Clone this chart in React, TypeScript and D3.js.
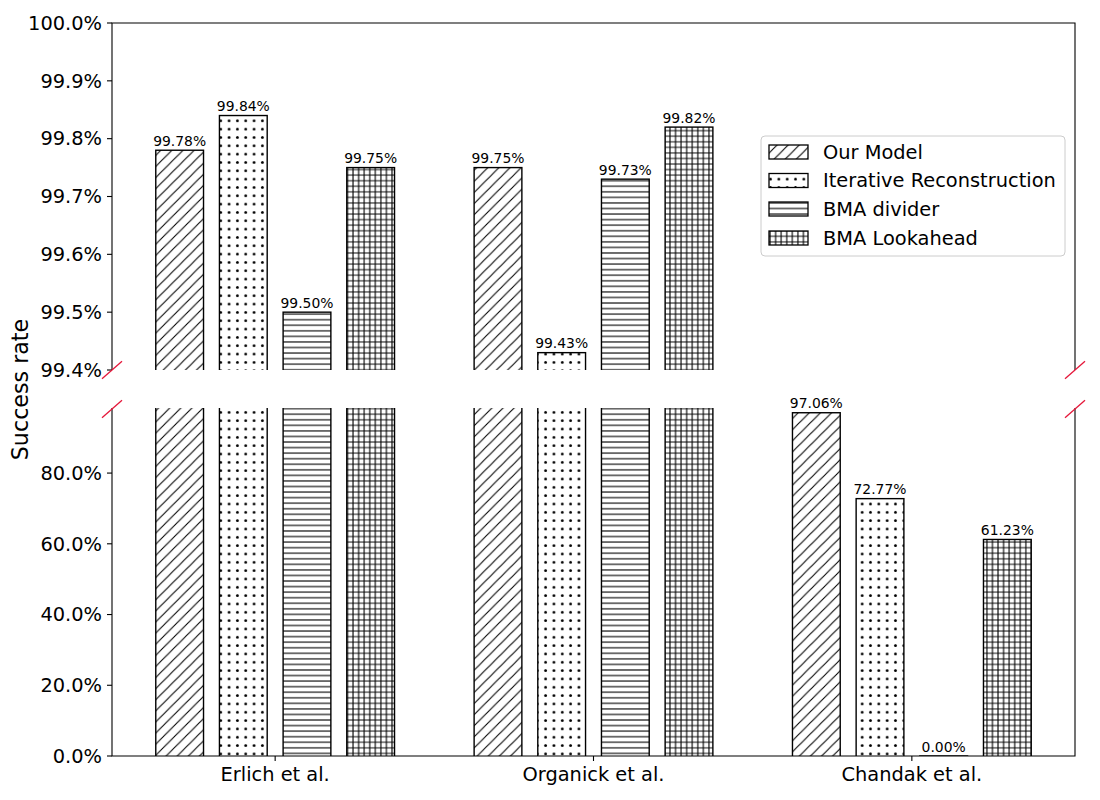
import React from 'react';
import * as d3 from 'd3';

// chart data
const groups = ["Erlich et al.", "Organick et al.", "Chandak et al."];
const methods = ["Our Model", "Iterative Reconstruction", "BMA divider", "BMA Lookahead"];
const ourModel = [99.78, 99.75, 97.06];
const iterativeRecon = [99.84, 99.43, 72.77];
const bmaDivider = [99.50, 99.73, 0.0];
const bmaLookahead = [99.75, 99.82, 61.23];
const series = [ourModel, iterativeRecon, bmaDivider, bmaLookahead];
const hatchIds = ["hatchDiag", "hatchDots", "hatchHoriz", "hatchGrid"];
const topTicks = [99.4, 99.5, 99.6, 99.7, 99.8, 99.9, 100.0];
const bottomTicks = [0, 20, 40, 60, 80];

const W = 1100;
const H = 800;
const left = 112;
const right = 1075;
const topY0 = 23, topY1 = 370;
const botY0 = 408, botY1 = 756;
const barWidth = 0.15;
const offsets = [-0.3, -0.1, 0.1, 0.3];
const font = '"DejaVu Sans", sans-serif';
const breakColor = '#e5173a';
const tickFont = 19.4;
const valFont = 13.9;

const x = d3.scaleLinear().domain([-0.5125, 2.5125]).range([left, right]);
const yTop = d3.scaleLinear().domain([99.4, 100.0]).range([topY1, topY0]);
const yBot = d3.scaleLinear().domain([0, 98.4]).range([botY1, botY0]);

const fmtTick = (v: number) => `${v.toFixed(1)}%`;
const fmtVal = (v: number) => `${v.toFixed(2)}%`;

const Patterns = () => {
  const d = 11.11; // diagonal spacing
  const h = 5.56;
  const s = 8.33;
  return (
    <defs>
      <pattern id="hatchDiag" patternUnits="userSpaceOnUse" width={d} height={d}>
        <rect width={d} height={d} fill="white" />
        <path d={`M-1,1 L1,-1 M0,${d} L${d},0 M${d - 1},${d + 1} L${d + 1},${d - 1}`} stroke="black" strokeWidth={1.1} />
      </pattern>
      <pattern id="hatchDots" patternUnits="userSpaceOnUse" width={s} height={s}>
        <rect width={s} height={s} fill="white" />
        <circle cx={s / 2} cy={s / 2} r={1.4} fill="black" />
      </pattern>
      <pattern id="hatchHoriz" patternUnits="userSpaceOnUse" width={h} height={h}>
        <rect width={h} height={h} fill="white" />
        <path d={`M0,${h / 2} L${h},${h / 2}`} stroke="black" strokeWidth={1.1} />
      </pattern>
      <pattern id="hatchGrid" patternUnits="userSpaceOnUse" width={h} height={h}>
        <rect width={h} height={h} fill="white" />
        <path d={`M0,${h / 2} L${h},${h / 2} M${h / 2},0 L${h / 2},${h}`} stroke="black" strokeWidth={1.1} />
      </pattern>
      <clipPath id="clipTop">
        <rect x={left} y={topY0} width={right - left} height={topY1 - topY0} />
      </clipPath>
      <clipPath id="clipBot">
        <rect x={left} y={botY0} width={right - left} height={botY1 - botY0} />
      </clipPath>
    </defs>
  );
};

const Bars = ({ y, clip, y0 }: { y: d3.ScaleLinear<number, number>; clip: string; y0: number }) => (
  <g clipPath={`url(#${clip})`}>
    {series.map((vals, si) =>
      vals.map((v, gi) => {
        const bx = x(gi + offsets[si] - barWidth / 2);
        const bw = x(gi + offsets[si] + barWidth / 2) - bx;
        const top = y(v);
        const base = Math.max(y(y.domain()[0]), y0) + 20;
        const yy = Math.min(top, base);
        return (
          <rect key={`${si}-${gi}`} x={bx} y={yy} width={bw} height={Math.max(0, base - yy)}
            fill={`url(#${hatchIds[si]})`} stroke="black" strokeWidth={1.4} />
        );
      })
    )}
  </g>
);

const App = () => {
  const labelsTop: JSX.Element[] = [];
  const labelsBot: JSX.Element[] = [];
  series.forEach((vals, si) =>
    vals.forEach((v, gi) => {
      const cx = x(gi + offsets[si]);
      if (v >= 99.4) {
        labelsTop.push(
          <text key={`t${si}-${gi}`} x={cx} y={yTop(v) - 4.5} textAnchor="middle" fontSize={valFont}>{fmtVal(v)}</text>
        );
      } else {
        labelsBot.push(
          <text key={`b${si}-${gi}`} x={cx} y={yBot(v) - 4.5} textAnchor="middle" fontSize={valFont}>{fmtVal(v)}</text>
        );
      }
    })
  );

  const breakMark = (cx: number, cy: number, k: string) => (
    <line key={k} x1={cx - 10} y1={cy + 8.7} x2={cx + 10} y2={cy - 8.7} stroke={breakColor} strokeWidth={1.3} />
  );

  const legendRows = [152, 180.5, 209, 238];

  return (
    <svg width={W} height={H} style={{ display: 'block', position: 'absolute', left: 0, top: 0, background: 'white' }}
      fontFamily={font}>
      <Patterns />
      <rect width={W} height={H} fill="white" />

      {/* top panel */}
      <Bars y={yTop} clip="clipTop" y0={topY1} />
      {labelsTop}
      <path d={`M${left},${topY1} L${left},${topY0} L${right},${topY0} L${right},${topY1}`} fill="none" stroke="black" strokeWidth={1.1} />
      {topTicks.map(t => (
        <g key={`yt${t}`}>
          <line x1={left - 5} x2={left} y1={yTop(t)} y2={yTop(t)} stroke="black" strokeWidth={1.1} />
          <text x={left - 10} y={yTop(t)} dy="0.35em" textAnchor="end" fontSize={tickFont}>{fmtTick(t)}</text>
        </g>
      ))}

      {/* bottom panel */}
      <Bars y={yBot} clip="clipBot" y0={botY1} />
      {labelsBot}
      <path d={`M${left},${botY0} L${left},${botY1} L${right},${botY1} L${right},${botY0}`} fill="none" stroke="black" strokeWidth={1.1} />
      {bottomTicks.map(t => (
        <g key={`yb${t}`}>
          <line x1={left - 5} x2={left} y1={yBot(t)} y2={yBot(t)} stroke="black" strokeWidth={1.1} />
          <text x={left - 10} y={yBot(t)} dy="0.35em" textAnchor="end" fontSize={tickFont}>{fmtTick(t)}</text>
        </g>
      ))}
      {groups.map((g, gi) => (
        <g key={g}>
          <line x1={x(gi)} x2={x(gi)} y1={botY1} y2={botY1 + 5} stroke="black" strokeWidth={1.1} />
          <text x={x(gi)} y={botY1 + 25} textAnchor="middle" fontSize={tickFont}>{g}</text>
        </g>
      ))}

      {/* axis break marks */}
      {breakMark(left, topY1, 'b1')}
      {breakMark(right, topY1, 'b2')}
      {breakMark(left, botY0 + 1, 'b3')}
      {breakMark(right, botY0 + 1, 'b4')}

      {/* y label */}
      <text transform={`translate(28,${(topY0 + botY1) / 2}) rotate(-90)`} textAnchor="middle" fontSize={22.2}>Success rate</text>

      {/* legend */}
      <rect x={761} y={136} width={304} height={120} rx={4} fill="white" fillOpacity={0.8} stroke="#cccccc" strokeWidth={1} />
      {methods.map((m, i) => (
        <g key={m}>
          <rect x={769} y={legendRows[i] - 7} width={39} height={14} fill={`url(#${hatchIds[i]})`} stroke="black" strokeWidth={1.3} />
          <text x={823} y={legendRows[i]} dy="0.35em" fontSize={tickFont}>{m}</text>
        </g>
      ))}
    </svg>
  );
};

export default App;
